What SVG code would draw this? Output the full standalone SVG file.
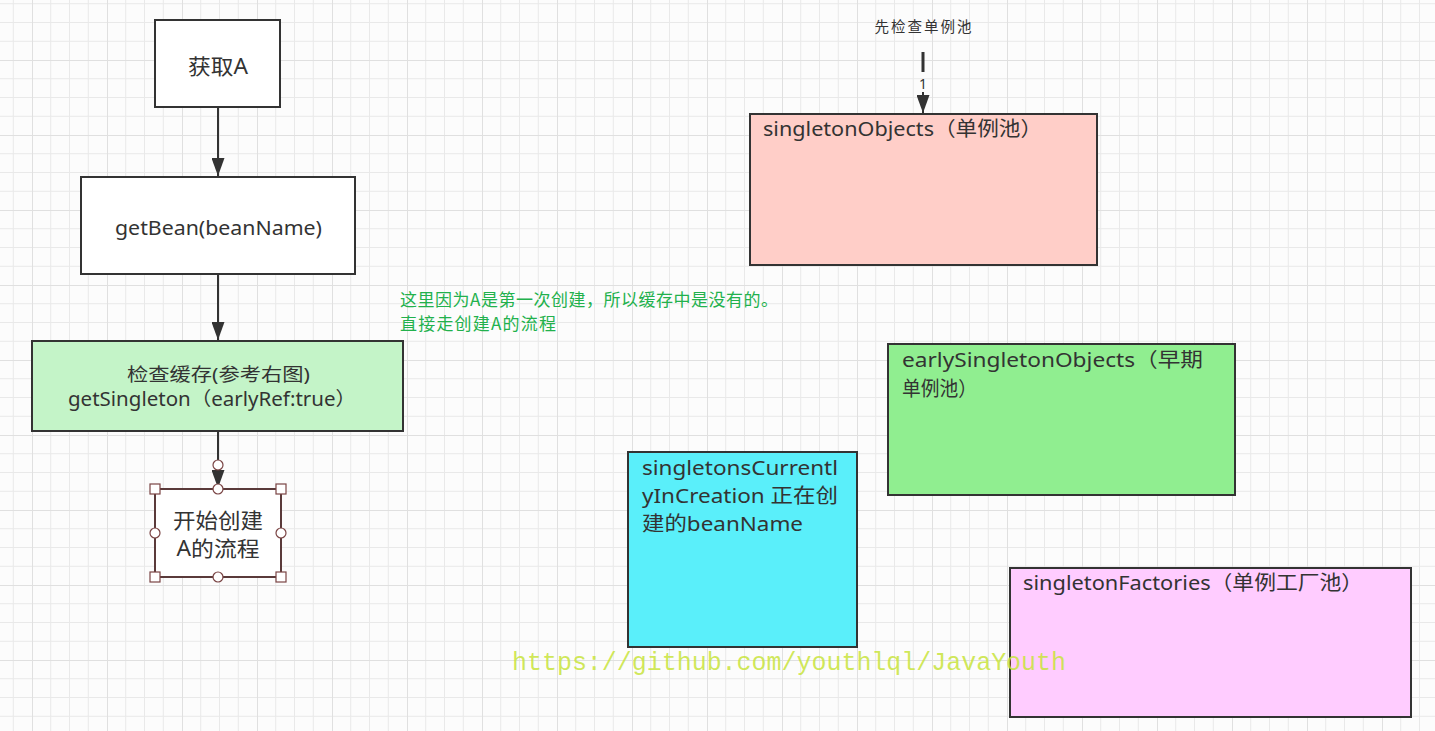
<svg xmlns="http://www.w3.org/2000/svg" width="1435" height="731" viewBox="0 0 1435 731">
  <defs>
    <pattern id="grid" patternUnits="userSpaceOnUse" x="32" y="60" width="75" height="75">
      <path d="M18.75 0V75M37.5 0V75M56.25 0V75M0 18.75H75M0 37.5H75M0 56.25H75" stroke="#e9e9e9" stroke-width="1" fill="none"/>
      <path d="M0 0V75M0 0H75" stroke="#e0e0e0" stroke-width="2" fill="none"/>
    </pattern>
    <marker id="arrow" markerUnits="userSpaceOnUse" markerWidth="18" markerHeight="13" refX="18" refY="6.5" orient="auto">
      <path d="M0,0 L18,6.5 L0,13 z" fill="#333"/>
    </marker>
    <style>
      .node { stroke: #333; stroke-width: 2; }
      .t { font-family: "Noto Sans", "Noto Sans CJK SC", sans-serif; fill: #333; }
      .edge { stroke: #333; stroke-width: 2; fill: none; }
      .handle { fill: #fff; stroke: #7a4444; stroke-width: 1.2; }
      .note { font-family: "Noto Sans CJK SC", "Noto Sans", sans-serif; fill: #22b14c; font-size: 17px; }
    </style>
  </defs>

  <rect x="0" y="0" width="1435" height="731" fill="#fcfcfc"/>
  <rect x="0" y="0" width="1435" height="731" fill="url(#grid)"/>

  <g id="connectors">
    <line class="edge" x1="218" y1="107" x2="218" y2="176" marker-end="url(#arrow)"/>
    <line class="edge" x1="218" y1="274" x2="218" y2="340" marker-end="url(#arrow)"/>
    <line class="edge" x1="218" y1="431" x2="218" y2="488" marker-end="url(#arrow)"/>
    <circle class="handle" cx="218" cy="465" r="5"/>
    <line stroke="#333" stroke-width="3" x1="923" y1="52" x2="923" y2="72"/>
    <line class="edge" x1="923" y1="92" x2="923" y2="113" marker-end="url(#arrow)"/>
    <text class="t" x="923" y="89" font-size="14" text-anchor="middle">1</text>
    <text class="t" x="923" y="32" font-size="14.5" text-anchor="middle" textLength="97" lengthAdjust="spacing">先检查单例池</text>
  </g>

  <g id="node-getA">
    <rect class="node" x="155" y="20" width="125" height="87" fill="#fff"/>
    <text class="t" x="218" y="74" font-size="21" text-anchor="middle" textLength="60" lengthAdjust="spacingAndGlyphs">获取A</text>
  </g>

  <g id="node-getBean">
    <rect class="node" x="81" y="177" width="274" height="97" fill="#fff"/>
    <text class="t" x="218.5" y="235" font-size="19" text-anchor="middle" textLength="207" lengthAdjust="spacingAndGlyphs">getBean(beanName)</text>
  </g>

  <g id="node-checkCache">
    <rect class="node" x="32" y="341" width="371" height="90" fill="#c4f4c8"/>
    <text class="t" x="218.5" y="381" font-size="18" text-anchor="middle" textLength="183" lengthAdjust="spacingAndGlyphs">检查缓存(参考右图)</text>
    <text class="t" x="212" y="406" font-size="19" text-anchor="middle" textLength="288" lengthAdjust="spacingAndGlyphs">getSingleton（earlyRef:true）</text>
  </g>

  <g id="node-createA">
    <rect x="155" y="489" width="126" height="88" fill="#fff" stroke="#5a3a3a" stroke-width="2"/>
    <text class="t" x="218" y="528" font-size="21" text-anchor="middle" textLength="90" lengthAdjust="spacingAndGlyphs">开始创建</text>
    <text class="t" x="218" y="556" font-size="21" text-anchor="middle" textLength="83" lengthAdjust="spacingAndGlyphs">A的流程</text>
    <rect class="handle" x="150" y="484" width="10" height="10"/>
    <rect class="handle" x="276" y="484" width="10" height="10"/>
    <rect class="handle" x="150" y="572" width="10" height="10"/>
    <rect class="handle" x="276" y="572" width="10" height="10"/>
    <circle class="handle" cx="218" cy="489" r="5"/>
    <circle class="handle" cx="218" cy="577" r="5"/>
    <circle class="handle" cx="155" cy="533" r="5"/>
    <circle class="handle" cx="281" cy="533" r="5"/>
  </g>

  <g id="note">
    <text class="note" x="400" y="306" textLength="378" lengthAdjust="spacing">这里因为A是第一次创建，所以缓存中是没有的。</text>
    <text class="note" x="400" y="330" textLength="156" lengthAdjust="spacing">直接走创建A的流程</text>
  </g>

  <g id="node-singletonObjects">
    <rect class="node" x="750" y="114" width="347" height="151" fill="#ffcec8"/>
    <text class="t" x="763" y="136" font-size="20" textLength="279" lengthAdjust="spacingAndGlyphs">singletonObjects（单例池）</text>
  </g>

  <g id="node-earlySingletonObjects">
    <rect class="node" x="888" y="344" width="347" height="151" fill="#90ee90"/>
    <text class="t" x="902" y="367" font-size="20" textLength="301" lengthAdjust="spacingAndGlyphs">earlySingletonObjects（早期</text>
    <text class="t" x="902" y="396" font-size="20" textLength="75" lengthAdjust="spacingAndGlyphs">单例池）</text>
  </g>

  <g id="node-singletonsCurrentlyInCreation">
    <rect class="node" x="628" y="452" width="229" height="195" fill="#5aeffa"/>
    <text class="t" x="642" y="475" font-size="20" textLength="196" lengthAdjust="spacingAndGlyphs">singletonsCurrentl</text>
    <text class="t" x="642" y="503" font-size="20" textLength="196" lengthAdjust="spacingAndGlyphs">yInCreation 正在创</text>
    <text class="t" x="642" y="531" font-size="20" textLength="161" lengthAdjust="spacingAndGlyphs">建的beanName</text>
  </g>

  <g id="node-singletonFactories">
    <rect class="node" x="1010" y="568" width="401" height="149" fill="#ffccff"/>
    <text class="t" x="1023" y="590" font-size="20" textLength="340" lengthAdjust="spacingAndGlyphs">singletonFactories（单例工厂池）</text>
  </g>

  <text x="512" y="670" font-family="Liberation Mono, monospace" font-size="25" fill="#c8e43c" fill-opacity="0.85" textLength="554" lengthAdjust="spacingAndGlyphs">https://github.com/youthlql/JavaYouth</text>
</svg>
